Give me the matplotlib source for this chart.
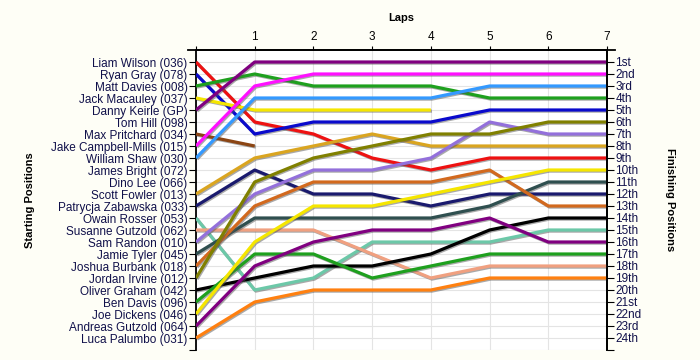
import matplotlib
matplotlib.use("Agg")
import matplotlib.pyplot as plt
import matplotlib.patheffects as pe

plt.rcParams['font.family'] = ['Liberation Sans', 'DejaVu Sans']

# ---- data ----
start_labels = [
    "Liam Wilson (036)", "Ryan Gray (078)", "Matt Davies (008)", "Jack Macauley (037)",
    "Danny Keirle (GP)", "Tom Hill (098)", "Max Pritchard (034)", "Jake Campbell-Mills (015)",
    "William Shaw (030)", "James Bright (072)", "Dino Lee (066)", "Scott Fowler (013)",
    "Patrycja Zabawska (033)", "Owain Rosser (053)", "Susanne Gutzold (062)", "Sam Randon (010)",
    "Jamie Tyler (045)", "Joshua Burbank (018)", "Jordan Irvine (012)", "Oliver Graham (042)",
    "Ben Davis (096)", "Joe Dickens (046)", "Andreas Gutzold (064)", "Luca Palumbo (031)",
]
finish_labels = [
    "1st", "2nd", "3rd", "4th", "5th", "6th", "7th", "8th", "9th", "10th", "11th", "12th",
    "13th", "14th", "15th", "16th", "17th", "18th", "19th", "20th", "21st", "22nd", "23rd", "24th",
]
laps = [0, 1, 2, 3, 4, 5, 6, 7]
lap_labels = ["", "1", "2", "3", "4", "5", "6", "7"]

# position at lap 0 (start) .. last completed lap
liam_wilson       = [1, 6, 7, 9, 10, 9, 9, 9]
ryan_gray         = [2, 7, 6, 6, 6, 5, 5, 5]
matt_davies       = [3, 2, 3, 3, 3, 4, 4, 4]
jack_macauley     = [4, 5, 5, 5, 5]
danny_keirle      = [5, 1, 1, 1, 1, 1, 1, 1]
max_pritchard     = [7, 8]
jake_campbell     = [8, 3, 2, 2, 2, 2, 2, 2]
william_shaw      = [9, 4, 4, 4, 4, 3, 3, 3]
scott_fowler      = [12, 9, 8, 7, 8, 8, 8, 8]
patrycja_zabawska = [13, 10, 12, 12, 13, 12, 12, 12]
owain_rosser      = [14, 20, 19, 16, 16, 16, 15, 15]
susanne_gutzold   = [15, 15, 15, 17, 19, 18, 18, 18]
sam_randon        = [16, 12, 10, 10, 9, 6, 7, 7]
jamie_tyler       = [17, 14, 14, 14, 14, 13, 11, 11]
joshua_burbank    = [18, 13, 11, 11, 11, 10, 13, 13]
jordan_irvine     = [19, 11, 9, 8, 7, 7, 6, 6]
oliver_graham     = [20, 19, 18, 18, 17, 15, 14, 14]
ben_davis         = [21, 17, 17, 19, 18, 17, 17, 17]
joe_dickens       = [22, 16, 13, 13, 12, 11, 10, 10]
andreas_gutzold   = [23, 18, 16, 15, 15, 14, 16, 16]
luca_palumbo      = [24, 21, 20, 20, 20, 19, 19, 19]

series = [
    (liam_wilson, "#EE1111"), (ryan_gray, "#0A0ACC"), (matt_davies, "#1EA01E"),
    (jack_macauley, "#F5E600"), (danny_keirle, "#800080"), (max_pritchard, "#8B4513"),
    (jake_campbell, "#FF10FF"), (william_shaw, "#3399FF"), (scott_fowler, "#DAA520"),
    (patrycja_zabawska, "#1A1A6E"), (owain_rosser, "#6CC8A8"), (susanne_gutzold, "#F0A080"),
    (sam_randon, "#9370DB"), (jamie_tyler, "#2F4F4F"), (joshua_burbank, "#D2691E"),
    (jordan_irvine, "#808000"), (oliver_graham, "#000000"), (ben_davis, "#1EA01E"),
    (joe_dickens, "#F5E600"), (andreas_gutzold, "#800080"), (luca_palumbo, "#FF8010"),
]

# ---- figure ----
bg = "#FEFEF6"
fig = plt.figure(figsize=(7, 3.6), dpi=100, facecolor=bg)
ax = fig.add_axes([196 / 700, 1 - 350 / 360, (607 - 196) / 700, 300 / 360])
ax.set_facecolor("white")

for pos, col in series:
    ax.plot(laps[:len(pos)], pos, color=col, lw=2.3, solid_capstyle="butt", zorder=3,
            path_effects=[pe.SimpleLineShadow(offset=(0.8, -0.8), shadow_color="#555555", alpha=0.5),
                          pe.Normal()])

ax.set_xlim(0, 7)
ax.set_ylim(25, 0)

ax.xaxis.tick_top()
ax.set_xticks(laps)
ax.set_xticklabels(lap_labels, fontsize=8.5)
ax.tick_params(axis="x", direction="out", length=3, pad=2, color="black")

ax.set_yticks(range(1, 26))
ax.set_yticklabels(start_labels + [""], fontsize=8.5, color="#10104a")
ax.tick_params(axis="y", direction="out", length=5, pad=1)

ax.grid(True, color="#E4E4E4", lw=0.8, zorder=0)
ax.set_axisbelow(True)

for s in ["top", "left", "right"]:
    ax.spines[s].set_linewidth(1.3)
ax.spines["bottom"].set_visible(False)

# top axis line extends a little beyond the vertical axes
ax.plot([-0.02, 1.02], [1, 1], transform=ax.transAxes, color="black", lw=1.3,
        clip_on=False, zorder=5)

ax2 = ax.twinx()
ax2.set_ylim(25, 0)
ax2.set_yticks(range(1, 26))
ax2.set_yticklabels(finish_labels + [""], fontsize=8.5, color="#10104a")
ax2.tick_params(axis="y", direction="out", length=5, pad=1)
for s in ["top", "bottom", "left"]:
    ax2.spines[s].set_visible(False)
ax2.spines["right"].set_linewidth(1.3)

fig.text(401 / 700, 1 - 18 / 360, "Laps", ha="center", va="center", fontsize=8, fontweight="bold")
fig.text(30 / 700, 1 - 200 / 360, "Starting Positions", ha="center", va="center", rotation=90,
         fontsize=8, fontweight="bold")
fig.text(670 / 700, 1 - 200 / 360, "Finishing Positions", ha="center", va="center", rotation=-90,
         fontsize=8, fontweight="bold")

fig.savefig("out.png", dpi=100, facecolor=bg)
